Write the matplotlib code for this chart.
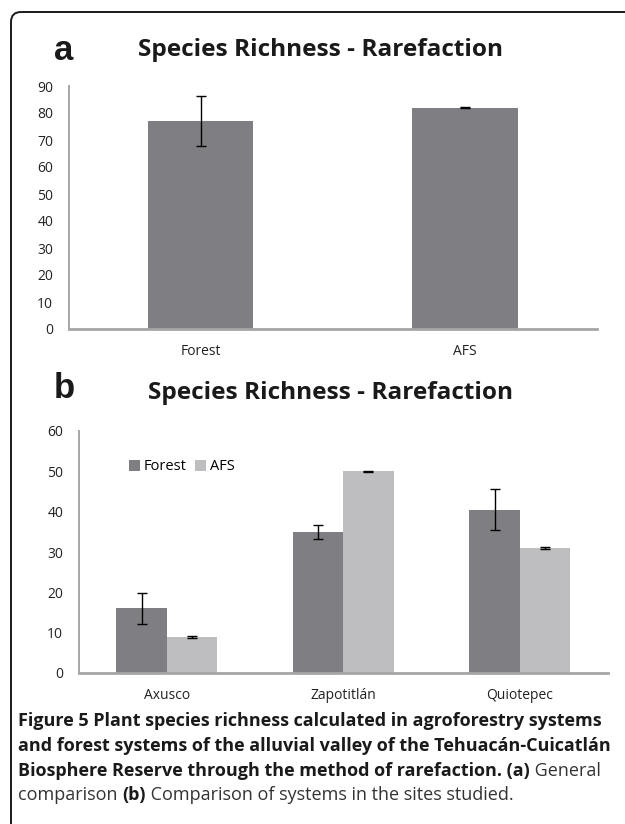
import numpy as np
import matplotlib
matplotlib.use('Agg')
import matplotlib.pyplot as plt
from matplotlib.patches import FancyBboxPatch

# panel a: general comparison
systems = ['Forest', 'AFS']
richness_a = [77, 82]
err_a = [9.2, 0.2]

# panel b: per site
sites = ['Axusco', 'Zapotitlán', 'Quiotepec']
forest_b = [16, 34.9, 40.5]
forest_err = [3.9, 1.8, 5.1]
afs_b = [9, 50, 31]
afs_err = [0.2, 0.2, 0.2]

dark = '#7f7f83'
light = '#bebec0'
spine_col = '#a6a6a6'
font = 'Open Sans'

W, H = 625, 824
fig = plt.figure(figsize=(W / 100, H / 100), dpi=100)


def fx(px):
    return px / W


def fy(py):
    return 1 - py / H


def style_axes(ax, ymax):
    for s in ['top', 'right']:
        ax.spines[s].set_visible(False)
    ax.spines['left'].set_color(spine_col)
    ax.spines['left'].set_linewidth(1.4)
    ax.spines['bottom'].set_color(spine_col)
    ax.spines['bottom'].set_linewidth(2)
    ax.set_ylim(0, ymax)
    ax.tick_params(axis='both', length=0, labelsize=10, colors='#222222')
    ax.tick_params(axis='y', pad=11)
    ax.tick_params(axis='x', pad=11)
    for lab in ax.get_xticklabels() + ax.get_yticklabels():
        lab.set_fontfamily(font)


ekw = dict(ecolor='black', elinewidth=1, capsize=3.5, capthick=1)

# ---- panel a
axa = fig.add_axes([fx(68.5), fy(329), fx(597 - 68.5), fy(86) - fy(329)])
xa = np.arange(len(systems))
axa.bar(xa, richness_a, width=0.4, color=dark, edgecolor='none', yerr=err_a, error_kw=ekw)
axa.set_xlim(-0.5, len(systems) - 0.5)
axa.set_xticks(xa)
axa.set_xticklabels(systems)
axa.set_yticks(np.arange(0, 91, 10))
style_axes(axa, 90)

# ---- panel b
axb = fig.add_axes([fx(78.5), fy(673), fx(608 - 78.5), fy(431) - fy(673)])
xb = np.arange(len(sites))
bw = 0.286
axb.bar(xb - bw / 2, forest_b, width=bw, color=dark, edgecolor='none', label='Forest',
        yerr=forest_err, error_kw=ekw)
axb.bar(xb + bw / 2, afs_b, width=bw, color=light, edgecolor='none', label='AFS',
        yerr=afs_err, error_kw=ekw)
axb.set_xlim(-0.5, len(sites) - 0.5)
axb.set_xticks(xb)
axb.set_xticklabels(sites)
axb.set_yticks(np.arange(0, 61, 10))
style_axes(axb, 60)
axb.legend(loc='center left', bbox_to_anchor=(fx(116), fy(467)),
           bbox_transform=fig.transFigure, ncol=2, frameon=False,
           handlelength=0.75, handleheight=0.75, handletextpad=0.25,
           columnspacing=0.6, prop={'family': font, 'size': 10.5})

# titles and panel letters
for y, cx in [(50, 320), (393, 330)]:
    fig.text(fx(cx), fy(y), 'Species Richness - Rarefaction', ha='center', va='center',
             fontsize=17.6, fontweight='bold', family=font, color='#1a1a1a')
for y, letter in [(50, 'a'), (388, 'b')]:
    fig.text(fx(64), fy(y), letter, ha='center', va='center', fontsize=25,
             fontweight='bold', family='Liberation Sans', color='#1a1a1a')

# caption with mixed weights
cap_lines = [
    [('Figure 5 Plant species richness calculated in agroforestry systems', 'bold')],
    [('and forest systems of the alluvial valley of the Tehuacán-Cuicatlán', 'bold')],
    [('Biosphere Reserve through the method of rarefaction. (a)', 'bold'), (' General', 'normal')],
    [('comparison ', 'normal'), ('(b)', 'bold'), (' Comparison of systems in the sites studied.', 'normal')],
]
cap_y = [721, 746, 771, 795]
cap_size = 13

renderer = fig.canvas.get_renderer()
for parts, y in zip(cap_lines, cap_y):
    x = fx(18)
    for txt, wt in parts:
        t = fig.text(x, fy(y), txt, ha='left', va='center', fontsize=cap_size,
                     fontweight=wt, family=font,
                     color='#1a1a1a' if wt == 'bold' else '#333333')
        bb = t.get_window_extent(renderer)
        x = bb.x1 / fig.bbox.width

# frame: rounded rectangle running off the right and bottom edges
frame = FancyBboxPatch((fx(11), fy(900)), fx(700), fy(12) - fy(900),
                       boxstyle='round,pad=0,rounding_size=0.016',
                       transform=fig.transFigure, facecolor='none',
                       edgecolor='#1a1a1a', linewidth=1.4, mutation_aspect=W / H)
fig.patches.append(frame)

fig.savefig('out.png', dpi=100)
